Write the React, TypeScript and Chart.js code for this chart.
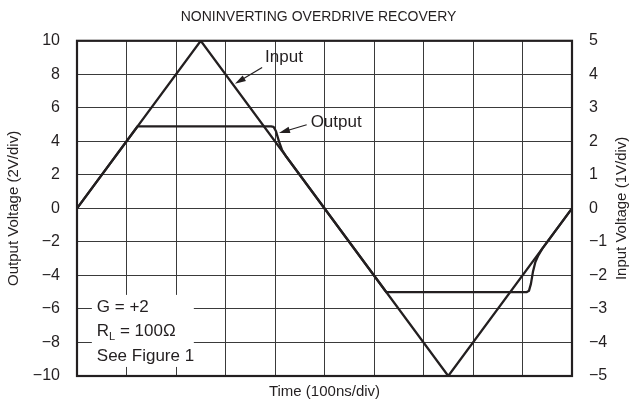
import React, { useEffect, useRef } from 'react';
import { Chart, registerables } from 'chart.js';

Chart.register(...registerables);

const chartTitle = 'NONINVERTING OVERDRIVE RECOVERY';
const xTitle = 'Time (100ns/div)';
const yLeftTitle = 'Output Voltage (2V/div)';
const yRightTitle = 'Input Voltage (1V/div)';

// time in divisions (100ns/div)
const inputTime = [0, 2.5, 7.5, 10];
const inputVolts = [0, 5, -5, 0];

const outputTime = [0, 1.225, 3.92, 3.97, 4.02, 4.08, 4.14, 4.23, 6.25, 9.08, 9.13, 9.17, 9.21, 9.26, 9.32, 9.4, 10];
const outputVolts = [0, 4.9, 4.9, 4.87, 4.6, 4.0, 3.5, 3.08, -5, -5, -4.92, -4.5, -3.8, -3.2, -2.8, -2.4, 0];

const leftTickValues = [-10, -8, -6, -4, -2, 0, 2, 4, 6, 8, 10];
const rightTickValues = [-5, -4, -3, -2, -1, 0, 1, 2, 3, 4, 5];
const timeGridValues = [0, 1, 2, 3, 4, 5, 6, 7, 8, 9, 10];

const noteLines = ['G = +2', 'R_L = 100\u03A9', 'See Figure 1'];
const inputLabel = 'Input';
const outputLabel = 'Output';

const FONT = '"Liberation Sans", Arial, Helvetica, sans-serif';
const INK = '#231f20';

const fmt = (v: number) => String(v).replace('-', '\u2212');

function drawArrow(ctx: CanvasRenderingContext2D, x1: number, y1: number, x2: number, y2: number) {
  const ang = Math.atan2(y2 - y1, x2 - x1);
  const len = 11;
  const w = 3.2;
  ctx.beginPath();
  ctx.moveTo(x1, y1);
  ctx.lineTo(x2 - Math.cos(ang) * len * 0.8, y2 - Math.sin(ang) * len * 0.8);
  ctx.lineWidth = 1.2;
  ctx.strokeStyle = INK;
  ctx.stroke();
  ctx.beginPath();
  ctx.moveTo(x2, y2);
  ctx.lineTo(x2 - Math.cos(ang) * len + Math.sin(ang) * w, y2 - Math.sin(ang) * len - Math.cos(ang) * w);
  ctx.lineTo(x2 - Math.cos(ang) * len - Math.sin(ang) * w, y2 - Math.sin(ang) * len + Math.cos(ang) * w);
  ctx.closePath();
  ctx.fillStyle = INK;
  ctx.fill();
}

const annotPlugin = {
  id: 'annot',
  beforeDatasetsDraw(chart: any) {
    const { ctx, scales } = chart;
    const x = scales.x;
    const y = scales.y;
    ctx.save();
    // notes box (white background hides the grid)
    const bx0 = x.getPixelForValue(0.3);
    const bx1 = x.getPixelForValue(2.36);
    const by0 = y.getPixelForValue(-5.16);
    const by1 = y.getPixelForValue(-9.46);
    ctx.fillStyle = '#fff';
    ctx.fillRect(bx0, by0, bx1 - bx0, by1 - by0);
    const lineVals = [-5.92, -7.36, -8.81];
    ctx.fillStyle = INK;
    ctx.textBaseline = 'middle';
    ctx.textAlign = 'left';
    noteLines.forEach((line, i) => {
      const ty = y.getPixelForValue(lineVals[i]);
      let tx = x.getPixelForValue(0.4);
      const parts = line.split('_');
      ctx.font = `17px ${FONT}`;
      ctx.fillText(parts[0], tx, ty);
      tx += ctx.measureText(parts[0]).width;
      if (parts.length > 1) {
        const sub = parts[1].charAt(0);
        const rest = parts[1].slice(1);
        ctx.font = `11px ${FONT}`;
        ctx.fillText(sub, tx, ty + 5);
        tx += ctx.measureText(sub).width;
        ctx.font = `17px ${FONT}`;
        ctx.fillText(rest, tx, ty);
      }
    });
    ctx.restore();
  },
  afterDatasetsDraw(chart: any) {
    const { ctx, scales, chartArea } = chart;
    const x = scales.x;
    const y = scales.y;
    ctx.save();
    ctx.font = `17px ${FONT}`;
    ctx.fillStyle = INK;
    ctx.textBaseline = 'middle';
    ctx.textAlign = 'left';
    ctx.fillText(inputLabel, x.getPixelForValue(3.8), y.getPixelForValue(8.99));
    drawArrow(ctx, x.getPixelForValue(3.74), y.getPixelForValue(8.41), x.getPixelForValue(3.19), y.getPixelForValue(7.43));
    ctx.fillStyle = INK;
    ctx.fillText(outputLabel, x.getPixelForValue(4.72), y.getPixelForValue(5.12));
    drawArrow(ctx, x.getPixelForValue(4.64), y.getPixelForValue(4.99), x.getPixelForValue(4.08), y.getPixelForValue(4.5));
    // frame
    ctx.lineWidth = 2.2;
    ctx.strokeStyle = INK;
    ctx.strokeRect(chartArea.left, chartArea.top, chartArea.right - chartArea.left, chartArea.bottom - chartArea.top);
    // right axis title, reading bottom to top
    ctx.save();
    ctx.translate(622, (chartArea.top + chartArea.bottom) / 2);
    ctx.rotate(-Math.PI / 2);
    ctx.textAlign = 'center';
    ctx.textBaseline = 'middle';
    ctx.font = `15px ${FONT}`;
    ctx.fillStyle = INK;
    ctx.fillText(yRightTitle, 0, 0);
    ctx.restore();
    ctx.restore();
  },
};

export default function App() {
  const ref = useRef<HTMLCanvasElement | null>(null);
  useEffect(() => {
    document.body.style.margin = '0';
    const canvas = ref.current;
    if (!canvas) return;
    const chart = new Chart(canvas, {
      type: 'scatter',
      data: {
        datasets: [
          {
            label: 'Input',
            data: inputTime.map((t, i) => ({ x: t, y: inputVolts[i] })),
            yAxisID: 'y2',
            showLine: true,
            borderColor: INK,
            borderWidth: 2.3,
            pointRadius: 0,
            tension: 0,
          },
          {
            label: 'Output',
            data: outputTime.map((t, i) => ({ x: t, y: outputVolts[i] })),
            yAxisID: 'y',
            showLine: true,
            borderColor: INK,
            borderWidth: 2.3,
            pointRadius: 0,
            tension: 0,
            borderJoinStyle: 'round',
          },
        ],
      },
      options: {
        animation: false,
        responsive: true,
        maintainAspectRatio: false,
        layout: { padding: 0 },
        plugins: {
          legend: { display: false },
          tooltip: { enabled: false },
          title: {
            display: true,
            text: chartTitle,
            color: INK,
            font: { family: FONT, size: 14, weight: 'normal' },
            padding: { top: 9, bottom: 15 },
          },
        },
        scales: {
          x: {
            type: 'linear',
            min: 0,
            max: 10,
            afterBuildTicks: (s: any) => { s.ticks = timeGridValues.map((v) => ({ value: v })); },
            afterFit: (s: any) => { s.height = 40; },
            ticks: { display: false },
            grid: { color: '#3a3a3a', lineWidth: 1, drawTicks: false },
            border: { display: false },
            title: {
              display: true,
              text: xTitle,
              color: INK,
              font: { family: FONT, size: 15 },
              padding: { top: 0, bottom: 15 },
            },
          },
          y: {
            type: 'linear',
            position: 'left',
            min: -10,
            max: 10,
            afterBuildTicks: (s: any) => { s.ticks = leftTickValues.map((v) => ({ value: v })); },
            afterFit: (s: any) => { s.width = 77; },
            ticks: {
              color: INK,
              font: { family: FONT, size: 16 },
              padding: 17,
              callback: (v: any) => fmt(v),
            },
            grid: { color: '#3a3a3a', lineWidth: 1, drawTicks: false },
            border: { display: false },
            title: {
              display: true,
              text: yLeftTitle,
              color: INK,
              font: { family: FONT, size: 15 },
              padding: { top: 5, bottom: 0 },
            },
          },
          y2: {
            type: 'linear',
            position: 'right',
            min: -5,
            max: 5,
            afterBuildTicks: (s: any) => { s.ticks = rightTickValues.map((v) => ({ value: v })); },
            afterFit: (s: any) => { s.width = 65; },
            ticks: {
              color: INK,
              font: { family: FONT, size: 16 },
              padding: 17,
              callback: (v: any) => fmt(v),
            },
            grid: { drawOnChartArea: false, drawTicks: false },
            border: { display: false },
            title: { display: false },
          },
        },
      },
      plugins: [annotPlugin],
    });
    return () => chart.destroy();
  }, []);
  return (
    <div style={{ position: 'absolute', left: 0, top: 0, width: 637, height: 416 }}>
      <canvas ref={ref} />
    </div>
  );
}
